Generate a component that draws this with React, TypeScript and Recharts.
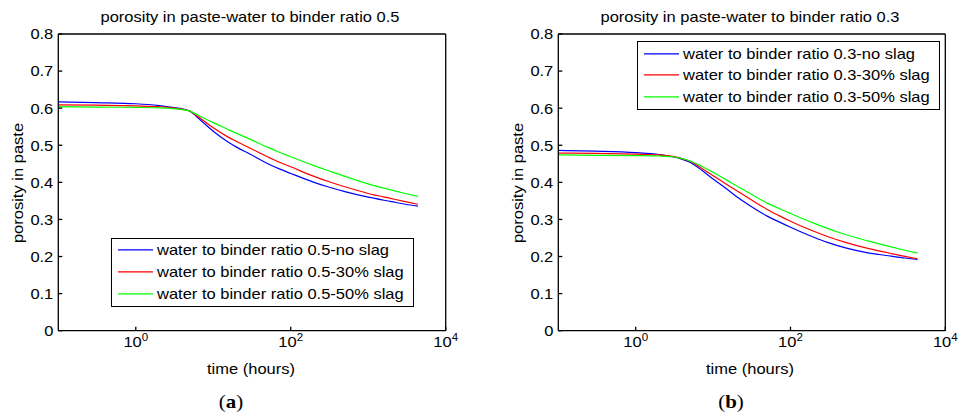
import { Legend, Line, LineChart, XAxis, YAxis } from "recharts";

// sample times (hours) shared by every curve
const hours = [0.1, 0.3, 1, 2, 3, 4, 5, 6, 7, 10, 15, 20, 30, 50, 70, 100, 200, 300, 500, 1000, 2000, 3000, 4380];

// water to binder ratio 0.5
const wb05NoSlag = [0.617, 0.615, 0.612, 0.607, 0.602, 0.598, 0.592, 0.579, 0.566, 0.538, 0.511, 0.495, 0.476, 0.451, 0.437, 0.424, 0.4, 0.388, 0.375, 0.36, 0.348, 0.341, 0.336];
const wb05Slag30 = [0.609, 0.608, 0.606, 0.604, 0.601, 0.597, 0.592, 0.581, 0.571, 0.547, 0.524, 0.51, 0.492, 0.469, 0.455, 0.442, 0.416, 0.403, 0.388, 0.37, 0.356, 0.348, 0.341];
const wb05Slag50 = [0.604, 0.603, 0.602, 0.601, 0.599, 0.596, 0.592, 0.584, 0.577, 0.561, 0.544, 0.532, 0.516, 0.495, 0.482, 0.469, 0.445, 0.432, 0.416, 0.396, 0.379, 0.37, 0.362];

// water to binder ratio 0.3
const wb03NoSlag = [0.486, 0.484, 0.48, 0.475, 0.469, 0.462, 0.454, 0.444, 0.434, 0.409, 0.382, 0.362, 0.337, 0.309, 0.294, 0.279, 0.252, 0.238, 0.224, 0.21, 0.201, 0.196, 0.192];
const wb03Slag30 = [0.479, 0.478, 0.476, 0.474, 0.47, 0.464, 0.457, 0.448, 0.439, 0.418, 0.394, 0.378, 0.355, 0.327, 0.311, 0.295, 0.268, 0.254, 0.239, 0.222, 0.208, 0.2005, 0.194];
const wb03Slag50 = [0.474, 0.473, 0.472, 0.471, 0.469, 0.464, 0.458, 0.451, 0.444, 0.427, 0.406, 0.391, 0.37, 0.344, 0.33, 0.316, 0.29, 0.276, 0.26, 0.242, 0.226, 0.217, 0.209];

const names05 = [
  "water to binder ratio 0.5-no slag",
  "water to binder ratio 0.5-30% slag",
  "water to binder ratio 0.5-50% slag",
];
const names03 = [
  "water to binder ratio 0.3-no slag",
  "water to binder ratio 0.3-30% slag",
  "water to binder ratio 0.3-50% slag",
];
const lineColors = ["#0000ff", "#ff0000", "#00ff00"];

const porosityTicks = [0, 0.1, 0.2, 0.3, 0.4, 0.5, 0.6, 0.7, 0.8];
const timeTicks = [1, 100, 10000];

const FONT = '"Liberation Sans", Arial, Helvetica, sans-serif';
const FONT_SIZE = 15;
const WIDE = 1.1; // the original typeface runs a little wider than Arial
const PANEL_W = 481;
const PANEL_H = 412;
const PLOT_TOP = 34;
const PLOT_BOTTOM = 330.7;

function PorosityTick(props: any) {
  const { x, y, payload } = props;
  return (
    <g transform={`translate(${x},${y}) scale(${WIDE},1)`}>
      <text x={0} y={0} dy="0.36em" textAnchor="end" fontSize={FONT_SIZE} fontFamily={FONT} fill="#000">
        {String(payload.value)}
      </text>
    </g>
  );
}

function TimeTick(props: any) {
  const { x, y, payload } = props;
  const exp = Math.round(Math.log10(payload.value));
  return (
    <g transform={`translate(${x},${y}) scale(${WIDE},1)`}>
      <text x={0} y={16.8} textAnchor="middle" fontSize={FONT_SIZE} fontFamily={FONT} fill="#000">
        <tspan>10</tspan>
        <tspan dy={-6.5} fontSize={10.5}>
          {exp}
        </tspan>
      </text>
    </g>
  );
}

function WideText({ x, y, text, vertical }: { x: number; y: number; text: string; vertical?: boolean }) {
  return (
    <div
      style={{
        position: "absolute",
        left: x,
        top: y,
        fontSize: FONT_SIZE,
        lineHeight: 1,
        whiteSpace: "nowrap",
        color: "#000",
        transform: `translate(-50%, -50%) ${vertical ? "rotate(-90deg) " : ""}scaleX(${WIDE})`,
      }}
    >
      {text}
    </div>
  );
}

function renderLegend(props: any) {
  const items = [...(props.payload ?? [])].sort((a: any, b: any) =>
    String(a.dataKey).localeCompare(String(b.dataKey)),
  );
  return (
    <div
      style={{
        boxSizing: "border-box",
        width: 303,
        height: 69,
        border: "1.5px solid #000",
        background: "#fff",
        paddingTop: 0.5,
        fontFamily: FONT,
      }}
    >
      {items.map((entry: any) => (
        <div key={entry.value} style={{ position: "relative", height: 21.7 }}>
          <svg width={36} height={21.7} style={{ position: "absolute", left: 6.1, top: 0 }}>
            <line x1={0} x2={35} y1={10.85} y2={10.85} stroke={entry.color} strokeWidth={1.2} />
          </svg>
          <span
            style={{
              position: "absolute",
              left: 45.1,
              top: 0,
              fontSize: FONT_SIZE,
              lineHeight: "21.7px",
              whiteSpace: "nowrap",
              color: "#000",
              transformOrigin: "left center",
              transform: `scaleX(${WIDE})`,
            }}
          >
            {entry.value}
          </span>
        </div>
      ))}
    </div>
  );
}

type PanelProps = {
  left: number;
  plotLeft: number;
  plotRight: number;
  title: string;
  caption: string;
  names: string[];
  values: number[][];
  legendX: number;
  legendY: number;
};

function PorosityPanel({ left, plotLeft, plotRight, title, caption, names, values, legendX, legendY }: PanelProps) {
  const rows = hours.map((t, i) => ({ t, s0: values[0][i], s1: values[1][i], s2: values[2][i] }));
  const center = (plotLeft + plotRight) / 2;
  const axisStyle = { stroke: "#000", strokeWidth: 1.3 };

  return (
    <div style={{ position: "absolute", left, top: 0, width: PANEL_W, height: PANEL_H }}>
      <LineChart
        width={PANEL_W}
        height={PANEL_H}
        data={rows}
        margin={{ top: PLOT_TOP - 1, right: PANEL_W - plotRight - 1, bottom: 0, left: 0 }}
      >
        <XAxis
          xAxisId="t"
          dataKey="t"
          type="number"
          scale="log"
          domain={[0.1, 10000]}
          allowDataOverflow
          ticks={timeTicks}
          interval={0}
          height={PANEL_H - PLOT_BOTTOM}
          tickSize={-4}
          tickMargin={4}
          tick={TimeTick}
          axisLine={axisStyle}
          tickLine={axisStyle}
        />
        <XAxis
          xAxisId="top"
          orientation="top"
          dataKey="t"
          type="number"
          scale="log"
          domain={[0.1, 10000]}
          allowDataOverflow
          ticks={timeTicks}
          interval={0}
          height={1}
          tickSize={-4}
          tick={false}
          axisLine={axisStyle}
          tickLine={axisStyle}
        />
        <YAxis
          yAxisId="p"
          type="number"
          domain={[0, 0.8]}
          ticks={porosityTicks}
          interval={0}
          width={plotLeft}
          tickSize={-4}
          tickMargin={9}
          tick={PorosityTick}
          axisLine={axisStyle}
          tickLine={axisStyle}
        />
        <YAxis
          yAxisId="mirror"
          orientation="right"
          type="number"
          domain={[0, 0.8]}
          ticks={porosityTicks}
          interval={0}
          width={1}
          tickSize={-4}
          tick={false}
          axisLine={axisStyle}
          tickLine={axisStyle}
        />
        <Legend
          layout="vertical"
          align="center"
          verticalAlign="middle"
          wrapperStyle={{ left: legendX, top: legendY, width: 303, height: 69 }}
          content={renderLegend}
        />
        {names.map((name, i) => (
          <Line
            key={name}
            xAxisId="t"
            yAxisId="p"
            type="monotone"
            dataKey={`s${i}`}
            name={name}
            stroke={lineColors[i]}
            strokeWidth={1.2}
            dot={false}
            activeDot={false}
            isAnimationActive={false}
          />
        ))}
      </LineChart>
      <WideText x={center - 1.8} y={15.7} text={title} />
      <WideText x={center - 1.5} y={368} text="time (hours)" />
      <WideText x={plotLeft - 41.6} y={183.3} text="porosity in paste" vertical />
      <div
        style={{
          position: "absolute",
          left: center - 21,
          top: 401,
          transform: `translate(-50%, -50%) scaleX(1.1)`,
          fontFamily: '"Liberation Serif", "Times New Roman", serif',
          fontSize: 19,
          lineHeight: 1,
          color: "#000",
        }}
      >
        (<b>{caption}</b>)
      </div>
    </div>
  );
}

export default function App() {
  return (
    <div
      style={{
        position: "absolute",
        left: 0,
        top: 0,
        width: 962,
        height: 412,
        background: "#fff",
        fontFamily: FONT,
        overflow: "hidden",
      }}
    >
      <PorosityPanel
        left={0}
        plotLeft={58.3}
        plotRight={445.7}
        title="porosity in paste-water to binder ratio 0.5"
        caption="a"
        names={names05}
        values={[wb05NoSlag, wb05Slag30, wb05Slag50]}
        legendX={110.7}
        legendY={237.7}
      />
      <PorosityPanel
        left={481}
        plotLeft={77.3}
        plotRight={464.3}
        title="porosity in paste-water to binder ratio 0.3"
        caption="b"
        names={names03}
        values={[wb03NoSlag, wb03Slag30, wb03Slag50]}
        legendX={155.7}
        legendY={41}
      />
    </div>
  );
}
